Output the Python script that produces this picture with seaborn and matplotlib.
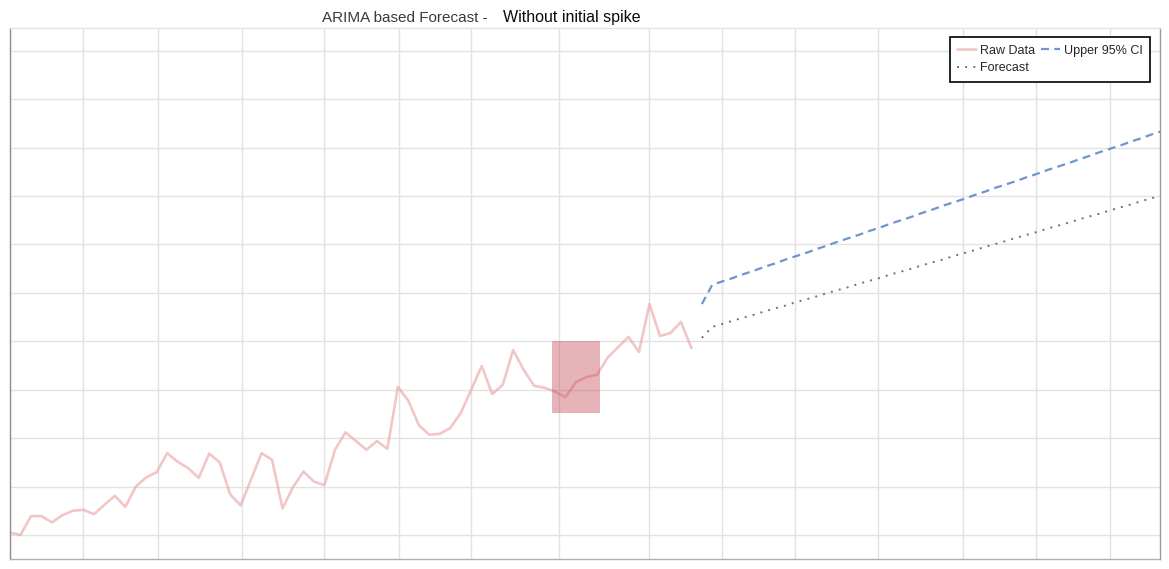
import numpy as np
import pandas as pd
import seaborn as sns
import matplotlib.pyplot as plt
from matplotlib.patches import Rectangle

# observed series (one value per period)
raw_values = [105, 100, 139, 139, 126, 141, 150, 152, 143, 162,
              181, 158, 200, 219, 230, 269, 251, 238, 218, 268,
              250, 184, 161, 215, 269, 255, 155, 199, 231, 210,
              203, 276, 312, 294, 276, 294, 278, 406, 377, 327,
              307, 309, 321, 352, 400, 449, 391, 410, 482, 441,
              408, 404, 396, 385, 416, 426, 431, 466, 488, 509,
              478, 577, 511, 517, 540, 486]

forecast_values = [507, 530, 536, 543, 549, 555, 562, 568, 574, 581,
                   587, 593, 600, 606, 612, 619, 625, 631, 638, 644,
                   650, 657, 663, 669, 676, 682, 688, 695, 701, 707,
                   714, 720, 726, 733, 739, 745, 752, 758, 764, 771,
                   777, 783, 790, 796, 802]

upper_ci_values = [577, 617, 624, 631, 639, 646, 654, 661, 669, 676,
                   683, 691, 698, 706, 713, 720, 728, 735, 743, 750,
                   757, 765, 772, 780, 787, 794, 802, 809, 817, 824,
                   831, 839, 846, 854, 861, 868, 876, 883, 891, 898,
                   905, 913, 920, 928, 935]

# highlighted window (period range, value range)
highlight_x = (51.7, 56.3)
highlight_y = (352, 501)

# gridline positions
x_ticks = [7.0, 14.1, 22.1, 30.0, 37.1, 44.0, 52.4, 61.0, 67.9, 74.9, 82.8, 90.9, 97.9, 104.9]
y_ticks = [100, 200, 300, 400, 500, 600, 700, 800, 900, 1000, 1100]

raw = pd.DataFrame({"t": np.arange(len(raw_values)), "value": raw_values})
n0 = len(raw_values)
fc = pd.DataFrame({"t": np.arange(n0, n0 + len(forecast_values)),
                   "forecast": forecast_values,
                   "upper": upper_ci_values})

sns.set_style("whitegrid")
plt.rcParams['font.family'] = ['Liberation Sans', 'DejaVu Sans']

fig = plt.figure(figsize=(11.69, 5.69), dpi=100)
ax = fig.add_axes([10 / 1169, 10 / 569, 1150 / 1169, 531 / 569])

sns.lineplot(data=raw, x="t", y="value", ax=ax, color="#eba3a3", alpha=0.62,
             lw=1.9, label="Raw Data")
sns.lineplot(data=fc, x="t", y="forecast", ax=ax, color="#707070",
             lw=1.4, linestyle=(0, (1, 3.2)), label="Forecast")
sns.lineplot(data=fc, x="t", y="upper", ax=ax, color="#6f95d0",
             lw=1.6, linestyle=(0, (3.6, 2.4)), label="Upper 95% CI")

ax.add_patch(Rectangle((highlight_x[0], highlight_y[0]),
                       highlight_x[1] - highlight_x[0],
                       highlight_y[1] - highlight_y[0],
                       facecolor="#be3c46", alpha=0.38, edgecolor="none", zorder=3))

ax.set_xlim(0, 109.7)
ax.set_ylim(50.4, 1147)
ax.set_xticks(x_ticks)
ax.set_yticks(y_ticks)
ax.tick_params(labelbottom=False, labelleft=False, length=0)
ax.set_xlabel("")
ax.set_ylabel("")
ax.grid(color="#e2e2e2", lw=1.0)

for side, col in [("left", "#8c8c8c"), ("bottom", "#b0b0b0"),
                  ("right", "#9a9a9a"), ("top", "#e2e2e2")]:
    ax.spines[side].set_color(col)
    ax.spines[side].set_linewidth(1.0)

leg = ax.legend(loc="upper right", bbox_to_anchor=(0.9913, 0.983), ncol=2,
                fontsize=9, frameon=True, fancybox=False, framealpha=1,
                handlelength=1.5, handletextpad=0.3, columnspacing=0.5,
                labelspacing=0.45, borderpad=0.6, borderaxespad=0)
leg.get_frame().set_edgecolor("black")
leg.get_frame().set_linewidth(1.2)

fig.text(492 / 1169, 1 - 22 / 569, "ARIMA based Forecast - ", ha="right",
         va="baseline", fontsize=11, color="#3a3a3a")
fig.text(503 / 1169, 1 - 22 / 569, "Without initial spike", ha="left",
         va="baseline", fontsize=11.5, color="#0a0a0a")

fig.savefig("out.png", dpi=100)
